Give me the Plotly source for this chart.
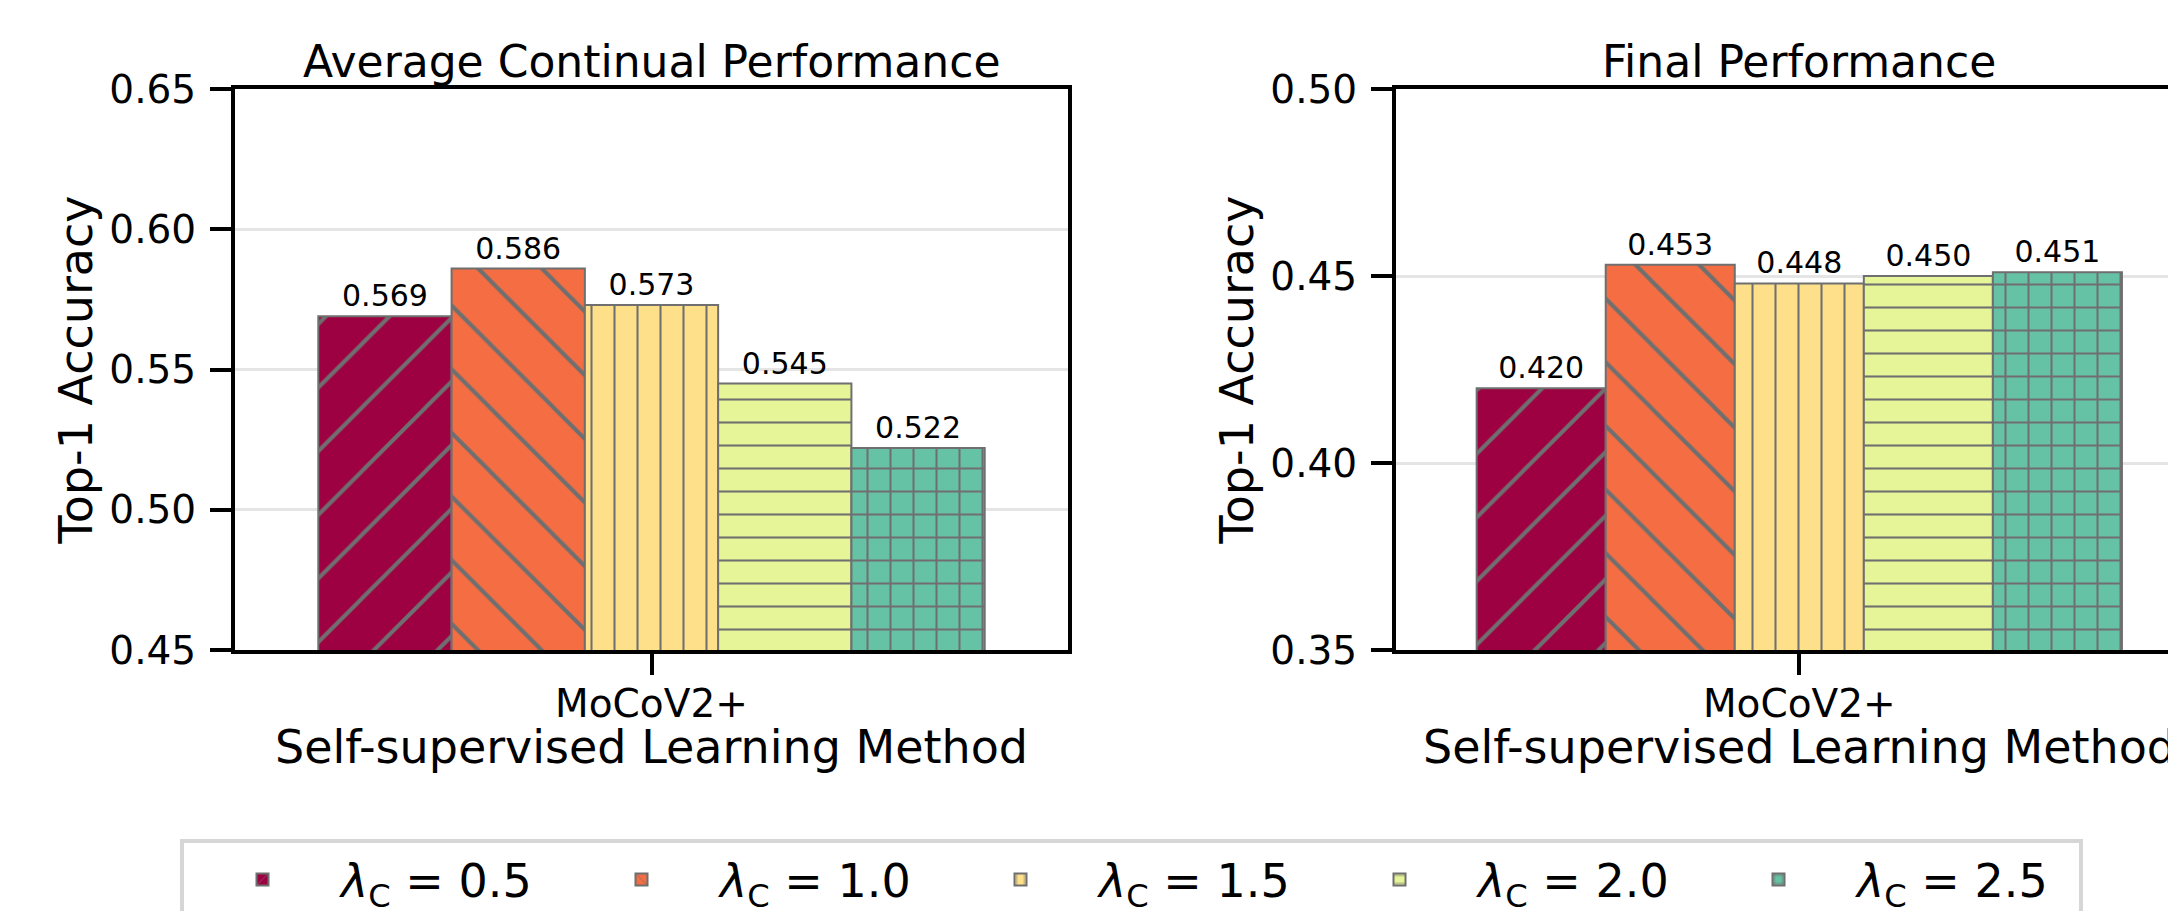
import plotly.graph_objects as go

# ---- data ----
categories = ["MoCoV2+"]
lambda_labels = ["0.5", "1.0", "1.5", "2.0", "2.5"]
avg_continual = [0.569, 0.586, 0.573, 0.545, 0.522]
final_perf = [0.420, 0.453, 0.448, 0.450, 0.451]

# ---- styles ----
colors = ["#9e0142", "#f46d43", "#fee08b", "#e6f598", "#66c2a5"]
hatches = ["/", "\\", "|", "-", "+"]
hatch_sizes = [45, 45, 23, 23, 23]
hatch_solidity = [0.09, 0.09, 0.09, 0.09, 0.17]
edge = "#6f6f6f"
FONT = "DejaVu Sans"

W, H = 2168, 911
fig = go.Figure()

def add_panel(values, xa, ya, show):
    for i, lab in enumerate(lambda_labels):
        fig.add_trace(go.Bar(
            x=categories, y=[values[i]],
            name=f"<i>λ</i><sub>C</sub> = {lab}",
            legendgroup=lab, showlegend=show,
            xaxis=xa, yaxis=ya,
            marker=dict(color=colors[i], line=dict(color=edge, width=2),
                        pattern=dict(shape=hatches[i], size=hatch_sizes[i],
                                     solidity=hatch_solidity[i], fgcolor=edge,
                                     fgopacity=1)),
            text=[f"{values[i]:.3f}"], textposition="outside",
            textfont=dict(size=30, family=FONT, color="black"),
            constraintext="none", cliponaxis=False,
        ))

add_panel(avg_continual, "x", "y", True)
add_panel(final_perf, "x2", "y2", False)

ydom = [1 - 650 / H, 1 - 89 / H]
axis_common = dict(showline=True, linecolor="black", linewidth=4, ticks="outside",
                   ticklen=21, tickwidth=4, tickcolor="black",
                   tickfont=dict(size=39, family=FONT, color="black"), automargin=False)

fig.update_layout(
    width=W, height=H,
    margin=dict(l=0, r=0, t=0, b=0, autoexpand=False),
    paper_bgcolor="white", plot_bgcolor="white",
    barmode="group", bargap=0.2, bargroupgap=0,
    font=dict(family=FONT, color="black"),
    xaxis=dict(domain=[235 / W, 1068 / W], range=[-0.5, 0.5], mirror=True,
               showgrid=False, anchor="y", ticklabelstandoff=-5, **axis_common),
    yaxis=dict(domain=ydom, range=[0.45, 0.65], dtick=0.05, tickformat=".2f",
               mirror=True, showgrid=True, gridcolor="#e5e5e5", gridwidth=2.5,
               zeroline=False, anchor="x", ticklabelstandoff=6,
               title=dict(text="Top-1 Accuracy", font=dict(size=46, family=FONT), standoff=3),
               **axis_common),
    xaxis2=dict(domain=[1396 / W, 1.0], range=[-0.5, -0.5 + (W - 1396) / 806.6],
                mirror=True, showgrid=False, anchor="y2", ticklabelstandoff=-5, **axis_common),
    yaxis2=dict(domain=ydom, range=[0.35, 0.50], dtick=0.05, tickformat=".2f",
                mirror=False, showgrid=True, gridcolor="#e5e5e5", gridwidth=2.5,
                zeroline=False, anchor="x2", ticklabelstandoff=6,
                title=dict(text="Top-1 Accuracy", font=dict(size=46, family=FONT), standoff=3),
                **axis_common),
    legend=dict(orientation="h", x=180 / W, xanchor="left", y=1 - 839 / H, yanchor="top",
                font=dict(size=46, family=FONT, color="black"),
                bordercolor="#d6d6d6", borderwidth=4, bgcolor="white",
                itemwidth=147, entrywidth=217, entrywidthmode="pixels",
                traceorder="normal"),
)

titles = [("x", "Average Continual Performance"), ("x2", "Final Performance")]
for xr, t in titles:
    fig.add_annotation(x=categories[0], xref=xr, y=ydom[1], yref="paper",
                       text=t, showarrow=False, yanchor="bottom", yshift=0,
                       font=dict(size=44, family=FONT, color="black"))
    fig.add_annotation(x=categories[0], xref=xr, y=ydom[0], yref="paper",
                       text="Self-supervised Learning Method", showarrow=False,
                       yanchor="top", yshift=-68,
                       font=dict(size=46, family=FONT, color="black"))

fig.write_html("out.html")
